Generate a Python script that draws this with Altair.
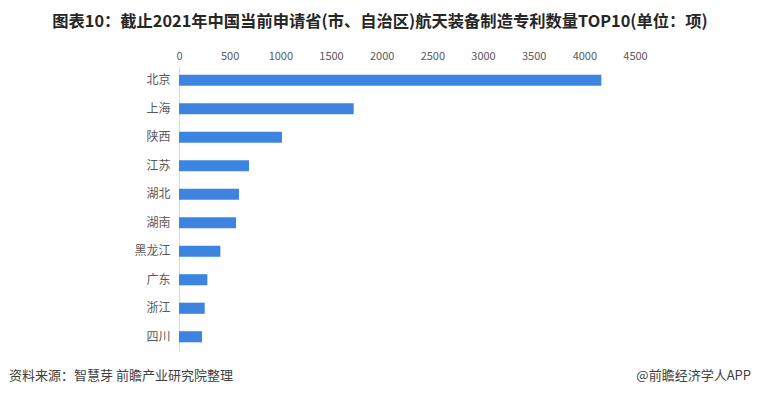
import altair as alt
import pandas as pd

provinces = ["北京", "上海", "陕西", "江苏", "湖北", "湖南", "黑龙江", "广东", "浙江", "四川"]
counts = [4168, 1724, 1016, 691, 592, 563, 408, 280, 254, 227]
x_ticks = [0, 500, 1000, 1500, 2000, 2500, 3000, 3500, 4000, 4500]

title_text = "图表10：截止2021年中国当前申请省(市、自治区)航天装备制造专利数量TOP10(单位：项)"
source_text = "资料来源：智慧芽 前瞻产业研究院整理"
brand_text = "@前瞻经济学人APP"

df = pd.DataFrame({"province": provinces, "count": counts})

FONT = "Noto Sans CJK SC"

bars = alt.Chart(df).mark_bar(color="#3D84E0").encode(
    x=alt.X("count:Q",
            scale=alt.Scale(domain=[0, 4500], nice=False),
            axis=alt.Axis(orient="top", values=x_ticks, format="d", title=None, grid=False,
                          domain=False, ticks=False, labelPadding=5,
                          labelColor="#595959", labelFontSize=11, labelFont=FONT,
                          labelFlush=False)),
    y=alt.Y("province:N", sort=provinces,
            scale=alt.Scale(paddingInner=0.61, paddingOuter=0.305),
            axis=alt.Axis(title=None, ticks=False, labelPadding=9,
                          domainColor="#D9D9D9", domainWidth=1,
                          labelColor="#595959", labelFontSize=12, labelFont=FONT)),
)

source = alt.Chart(pd.DataFrame({"t": [source_text]})).mark_text(
    font=FONT, fontSize=13, color="#404040", align="left", baseline="middle"
).encode(x=alt.value(-170), y=alt.value(310), text="t:N")

brand = alt.Chart(pd.DataFrame({"t": [brand_text]})).mark_text(
    font=FONT, fontSize=13, color="#404040", align="right", baseline="middle"
).encode(x=alt.value(572), y=alt.value(310), text="t:N")

chart = alt.layer(bars, source, brand).properties(
    width=456, height=285,
    autosize=alt.AutoSizeParams(type="none"),
    padding={"left": 171, "top": 58, "right": 117, "bottom": 37},
    title=alt.Title(title_text, anchor="middle", frame="group", dx=-27, offset=20,
                    font=FONT, fontSize=16.3, fontWeight="bold", color="#262626"),
).configure_view(stroke=None)

chart.save("out.html", embed_options={"renderer": "svg", "actions": False})
